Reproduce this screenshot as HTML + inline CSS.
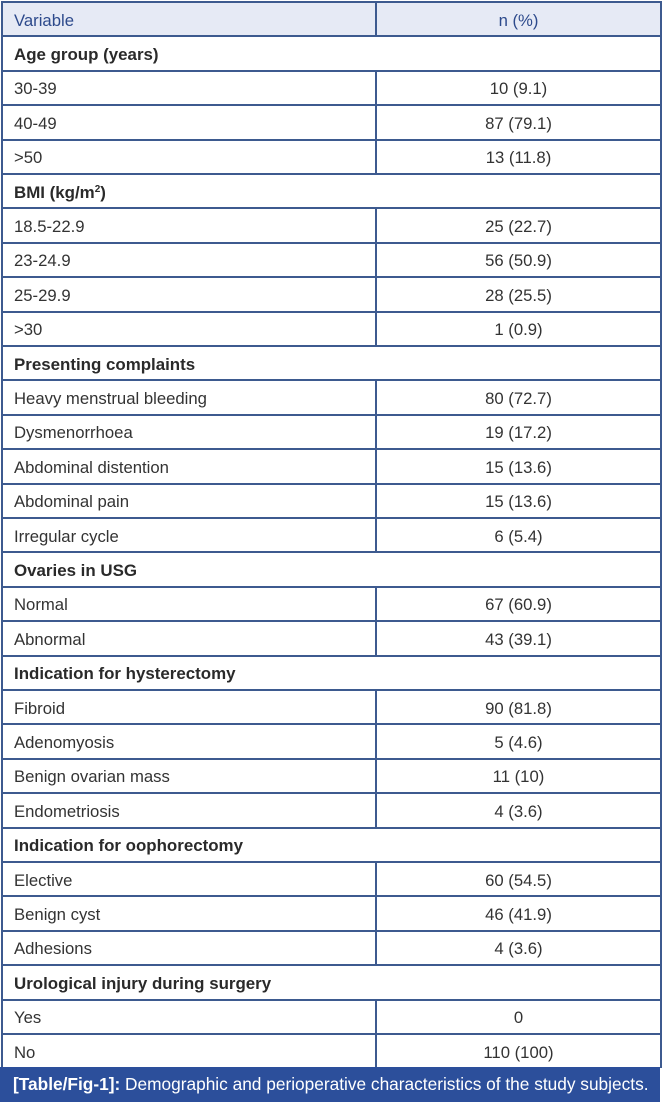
<!DOCTYPE html>
<html><head><meta charset="utf-8"><style>
*{margin:0;padding:0;box-sizing:border-box}
html,body{width:665px;height:1102px;background:#fff;overflow:hidden;position:relative;font-family:"Liberation Sans",Arial,sans-serif}
.r{position:absolute;left:2px;width:659px;height:34.4px;line-height:34.4px;font-size:16.7px;color:#333}
.r .a{position:absolute;left:12px;top:1.5px;white-space:nowrap}
.r .b{position:absolute;left:374px;width:285px;top:1.5px;text-align:center;white-space:nowrap}
.r .v{position:absolute;left:373.25px;top:0;width:1.5px;height:34.4px;background:#3d5a8f}
.g .a{font-weight:bold;font-size:16.9px;color:#2a2a2a}
.hd{background:#e6eaf5;color:#2d4a8c}
.hd .a,.hd .b{color:#2d4a8c}
.h{position:absolute;left:2px;width:660px;height:1.5px;background:#3d5a8f}
.vl{position:absolute;top:1.25px;width:1.5px;height:1067px;background:#3d5a8f}
.cap{position:absolute;left:0;top:1067px;width:660px;height:35px;background:#2c4f9b;color:#fff;font-size:17.3px;line-height:35px;padding-left:13px;white-space:nowrap}
.cap b{font-weight:bold}
sup{font-size:10px;line-height:0;vertical-align:6px}
</style></head><body>

<div class="r hd" style="top:2px"><span class="a">Variable</span><span class="v"></span><span class="b">n (%)</span></div>
<div class="r g" style="top:36.4px"><span class="a">Age group (years)</span></div>
<div class="r" style="top:70.8px"><span class="a">30-39</span><span class="v"></span><span class="b">10 (9.1)</span></div>
<div class="r" style="top:105.2px"><span class="a">40-49</span><span class="v"></span><span class="b">87 (79.1)</span></div>
<div class="r" style="top:139.6px"><span class="a">&gt;50</span><span class="v"></span><span class="b">13 (11.8)</span></div>
<div class="r g" style="top:174px"><span class="a">BMI (kg/m<sup>2</sup>)</span></div>
<div class="r" style="top:208.4px"><span class="a">18.5-22.9</span><span class="v"></span><span class="b">25 (22.7)</span></div>
<div class="r" style="top:242.8px"><span class="a">23-24.9</span><span class="v"></span><span class="b">56 (50.9)</span></div>
<div class="r" style="top:277.2px"><span class="a">25-29.9</span><span class="v"></span><span class="b">28 (25.5)</span></div>
<div class="r" style="top:311.6px"><span class="a">&gt;30</span><span class="v"></span><span class="b">1 (0.9)</span></div>
<div class="r g" style="top:346px"><span class="a">Presenting complaints</span></div>
<div class="r" style="top:380.4px"><span class="a">Heavy menstrual bleeding</span><span class="v"></span><span class="b">80 (72.7)</span></div>
<div class="r" style="top:414.8px"><span class="a">Dysmenorrhoea</span><span class="v"></span><span class="b">19 (17.2)</span></div>
<div class="r" style="top:449.2px"><span class="a">Abdominal distention</span><span class="v"></span><span class="b">15 (13.6)</span></div>
<div class="r" style="top:483.6px"><span class="a">Abdominal pain</span><span class="v"></span><span class="b">15 (13.6)</span></div>
<div class="r" style="top:518px"><span class="a">Irregular cycle</span><span class="v"></span><span class="b">6 (5.4)</span></div>
<div class="r g" style="top:552.4px"><span class="a">Ovaries in USG</span></div>
<div class="r" style="top:586.8px"><span class="a">Normal</span><span class="v"></span><span class="b">67 (60.9)</span></div>
<div class="r" style="top:621.2px"><span class="a">Abnormal</span><span class="v"></span><span class="b">43 (39.1)</span></div>
<div class="r g" style="top:655.6px"><span class="a">Indication for hysterectomy</span></div>
<div class="r" style="top:690px"><span class="a">Fibroid</span><span class="v"></span><span class="b">90 (81.8)</span></div>
<div class="r" style="top:724.4px"><span class="a">Adenomyosis</span><span class="v"></span><span class="b">5 (4.6)</span></div>
<div class="r" style="top:758.8px"><span class="a">Benign ovarian mass</span><span class="v"></span><span class="b">11 (10)</span></div>
<div class="r" style="top:793.2px"><span class="a">Endometriosis</span><span class="v"></span><span class="b">4 (3.6)</span></div>
<div class="r g" style="top:827.6px"><span class="a">Indication for oophorectomy</span></div>
<div class="r" style="top:862px"><span class="a">Elective</span><span class="v"></span><span class="b">60 (54.5)</span></div>
<div class="r" style="top:896.4px"><span class="a">Benign cyst</span><span class="v"></span><span class="b">46 (41.9)</span></div>
<div class="r" style="top:930.8px"><span class="a">Adhesions</span><span class="v"></span><span class="b">4 (3.6)</span></div>
<div class="r g" style="top:965.2px"><span class="a">Urological injury during surgery</span></div>
<div class="r" style="top:999.6px"><span class="a">Yes</span><span class="v"></span><span class="b">0</span></div>
<div class="r" style="top:1034px"><span class="a">No</span><span class="v"></span><span class="b">110 (100)</span></div>

<div class="h" style="top:1.25px"></div>
<div class="h" style="top:35.25px"></div>
<div class="h" style="top:70.25px"></div>
<div class="h" style="top:104.25px"></div>
<div class="h" style="top:139.25px"></div>
<div class="h" style="top:173.25px"></div>
<div class="h" style="top:207.25px"></div>
<div class="h" style="top:242.25px"></div>
<div class="h" style="top:276.25px"></div>
<div class="h" style="top:311.25px"></div>
<div class="h" style="top:345.25px"></div>
<div class="h" style="top:379.25px"></div>
<div class="h" style="top:414.25px"></div>
<div class="h" style="top:448.25px"></div>
<div class="h" style="top:483.25px"></div>
<div class="h" style="top:517.25px"></div>
<div class="h" style="top:551.25px"></div>
<div class="h" style="top:586.25px"></div>
<div class="h" style="top:620.25px"></div>
<div class="h" style="top:655.25px"></div>
<div class="h" style="top:689.25px"></div>
<div class="h" style="top:723.25px"></div>
<div class="h" style="top:758.25px"></div>
<div class="h" style="top:792.25px"></div>
<div class="h" style="top:827.25px"></div>
<div class="h" style="top:861.25px"></div>
<div class="h" style="top:895.25px"></div>
<div class="h" style="top:930.25px"></div>
<div class="h" style="top:964.25px"></div>
<div class="h" style="top:999.25px"></div>
<div class="h" style="top:1033.25px"></div>

<div class="vl" style="left:1.25px"></div>
<div class="vl" style="left:660.25px"></div>

<div class="cap"><b>[Table/Fig-1]:</b> Demographic and perioperative characteristics of the study subjects.</div>
</body></html>
